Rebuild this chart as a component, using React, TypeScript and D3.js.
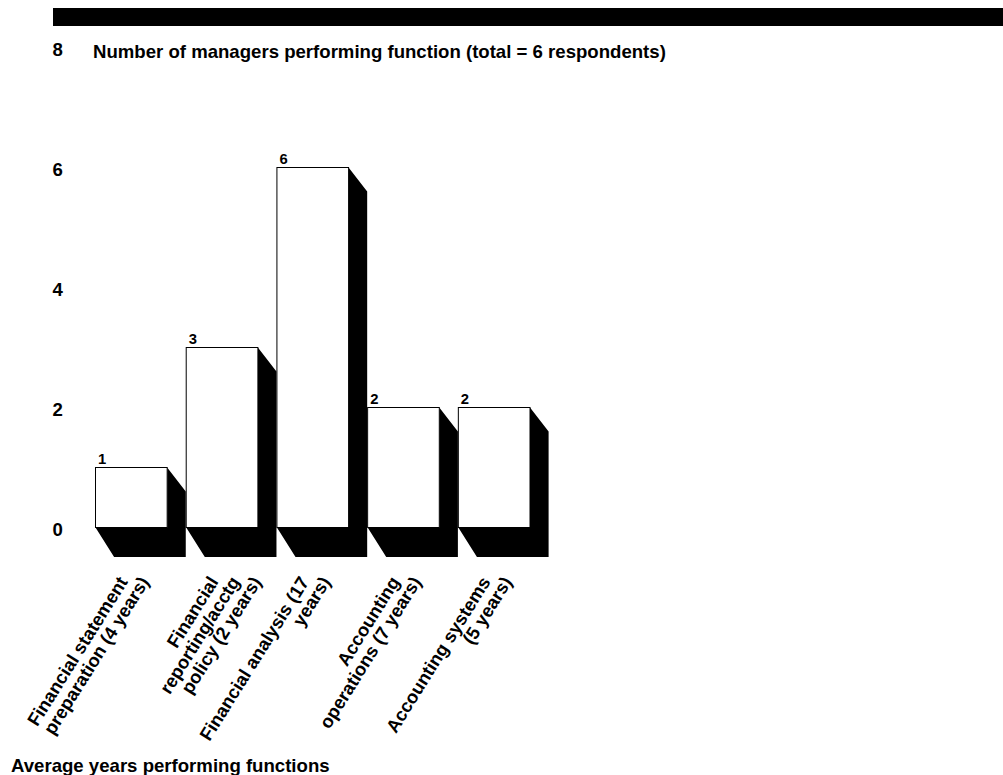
import * as d3 from "d3";
import React from "react";

const categories = [
  ["Financial statement", "preparation (4 years)"],
  ["Financial", "reporting/acctg", "policy (2 years)"],
  ["Financial analysis (17", "years)"],
  ["Accounting", "operations (7 years)"],
  ["Accounting systems", "(5 years)"],
];
const managers = [1, 3, 6, 2, 2];
const yTicks = [0, 2, 4, 6, 8];
const chartTitle = "Number of managers performing function (total = 6 respondents)";
const xTitle = "Average years performing functions";

const width = 1003;
const height = 775;
const font = "'Liberation Sans', Arial, sans-serif";

// offset of the black extrusion behind each bar
const depthX = 18.6;
const depthY = 29.5;
const depthTop = 24;

export default function App() {
  const x = d3
    .scaleBand<number>()
    .domain(d3.range(managers.length))
    .range([95.5, 530])
    .paddingInner(0.21);
  const y = d3.scaleLinear().domain([0, 8]).range([527.5, 47.5]);
  const bw = x.bandwidth();

  const shadow = (i: number) => {
    const left = x(i) as number;
    const right = left + bw;
    const top = y(managers[i]);
    const bottom = y(0);
    const p = d3.path();
    p.moveTo(left, bottom);
    p.lineTo(left + depthX, bottom + depthY);
    p.lineTo(right + depthX, bottom + depthY);
    p.lineTo(right + depthX, top + depthTop);
    p.lineTo(right, top);
    p.lineTo(right, bottom);
    p.closePath();
    return p.toString();
  };

  return (
    <svg
      width={width}
      height={height}
      style={{ position: "absolute", left: 0, top: 0 }}
      fontFamily={font}
      fontWeight="bold"
    >
      <rect x={53} y={8} width={950} height={18} fill="#000" />

      {yTicks.map((t) => (
        <text key={t} x={52.5} y={y(t) + 8.5} fontSize={18.6}>
          {t}
        </text>
      ))}
      <text x={93} y={57.5} fontSize={18.6}>
        {chartTitle}
      </text>

      {managers.map((_, i) => (
        <path key={i} d={shadow(i)} fill="#000" />
      ))}
      {managers.map((v, i) => (
        <g key={i}>
          <rect
            x={x(i)}
            y={y(v)}
            width={bw}
            height={y(0) - y(v)}
            fill="#fff"
            stroke="#000"
            strokeWidth={1}
          />
          <text x={(x(i) as number) + 2.5} y={y(v) - 4} fontSize={14.8}>
            {v}
          </text>
        </g>
      ))}

      {categories.map((lines, i) => {
        const cx = (x(i) as number) + bw / 2;
        return lines.map((line, j) => (
          <text
            key={line}
            transform={`translate(${cx - 14.5 + j * 21.5},${574.5}) rotate(-58)`}
            textAnchor="end"
            dominantBaseline="hanging"
            fontSize={18.4}
          >
            {line}
          </text>
        ));
      })}

      <text x={11} y={771.5} fontSize={18.6}>
        {xTitle}
      </text>
    </svg>
  );
}
